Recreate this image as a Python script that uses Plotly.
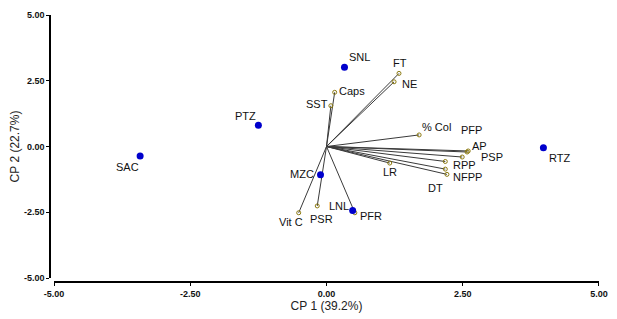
import plotly.graph_objects as go

# Observations (scores)
obs_names = ["SNL", "PTZ", "SAC", "RTZ", "MZC", "LNL"]
obs_pc1 = [0.33, -1.25, -3.42, 3.98, -0.11, 0.48]
obs_pc2 = [3.01, 0.81, -0.36, -0.05, -1.07, -2.43]

# Variables (loadings)
var_names = ["FT", "NE", "Caps", "SST", "% Col", "PFP", "AP", "PSP", "RPP",
             "NFPP", "DT", "LR", "Vit C", "PSR", "PFR"]
var_pc1 = [1.33, 1.24, 0.15, 0.08, 1.70, 2.60, 2.58, 2.49, 2.18,
           2.18, 2.21, 1.16, -0.51, -0.17, 0.52]
var_pc2 = [2.78, 2.46, 2.06, 1.55, 0.44, -0.17, -0.21, -0.40, -0.57,
           -0.86, -1.06, -0.63, -2.52, -2.26, -2.52]

tick_vals = [-5, -2.5, 0, 2.5, 5]
tick_text = ["-5.00", "-2.50", "0.00", "2.50", "5.00"]

x_title = "CP 1 (39.2%)"
y_title = "CP 2 (22.7%)"

# label pixel offsets (style)
obs_off = {"SNL": (15, -10), "PTZ": (-13, -9), "SAC": (-13, 11), "RTZ": (16, 10),
           "MZC": (-19, -1), "LNL": (-14, -4)}
var_off = {"FT": (1, -10), "NE": (15, 2), "Caps": (17, -1), "SST": (-14, -2),
           "% Col": (17, -8), "PFP": (3, -21), "AP": (12, -6), "PSP": (30, 0),
           "RPP": (19, 4), "NFPP": (22, 8), "DT": (-11, 14), "LR": (0, 9),
           "Vit C": (-8, 9), "PSR": (4, 13), "PFR": (16, 3)}

fig = go.Figure()

lx, ly = [], []
for x, y in zip(var_pc1, var_pc2):
    lx += [0, x, None]
    ly += [0, y, None]
fig.add_trace(go.Scatter(x=lx, y=ly, mode="lines",
                         line=dict(color="#3a3a3a", width=1), hoverinfo="skip"))
fig.add_trace(go.Scatter(x=var_pc1, y=var_pc2, mode="markers",
                         marker=dict(symbol="circle-open", size=4,
                                     color="#8c7a10", line=dict(width=1)),
                         text=var_names))
fig.add_trace(go.Scatter(x=obs_pc1, y=obs_pc2, mode="markers",
                         marker=dict(size=7, color="#0000cc"), text=obs_names))

font = dict(family="Liberation Sans, Arial, sans-serif", size=11, color="#111111")
for n, x, y in zip(obs_names, obs_pc1, obs_pc2):
    dx, dy = obs_off[n]
    fig.add_annotation(x=x, y=y, text=n, showarrow=False, xshift=dx, yshift=-dy, font=font)
for n, x, y in zip(var_names, var_pc1, var_pc2):
    dx, dy = var_off[n]
    fig.add_annotation(x=x, y=y, text=n, showarrow=False, xshift=dx, yshift=-dy, font=font)

tickfont = dict(family="Liberation Sans, Arial, sans-serif", size=9, color="#111111")
fig.update_layout(
    width=609, height=311,
    margin=dict(l=42, r=18, t=7, b=37, autoexpand=False),
    paper_bgcolor="white", plot_bgcolor="white",
    showlegend=False,
    xaxis=dict(range=[-5, 5], domain=[0.0073, 1], anchor="free", position=0,
               automargin=False,
               tickvals=tick_vals, ticktext=["<b>%s</b>" % t for t in tick_text],
               showgrid=False, zeroline=False, showline=True, linecolor="black",
               linewidth=1.5, ticks="outside", ticklen=3, tickcolor="black",
               tickfont=tickfont,
               title=dict(text=x_title, standoff=2,
                          font=dict(family="Liberation Sans, Arial, sans-serif", size=12, color="#222"))),
    yaxis=dict(range=[-5, 5], domain=[0.015, 1], anchor="free", position=0,
               automargin=False,
               tickvals=tick_vals, ticktext=["<b>%s</b>" % t for t in tick_text],
               showgrid=False, zeroline=False, showline=True, linecolor="black",
               linewidth=1.5, ticks="outside", ticklen=3, tickcolor="black",
               tickfont=tickfont,
               title=dict(text=y_title, standoff=6,
                          font=dict(family="Liberation Sans, Arial, sans-serif", size=12, color="#222"))),
)
fig.write_html("out.html")
